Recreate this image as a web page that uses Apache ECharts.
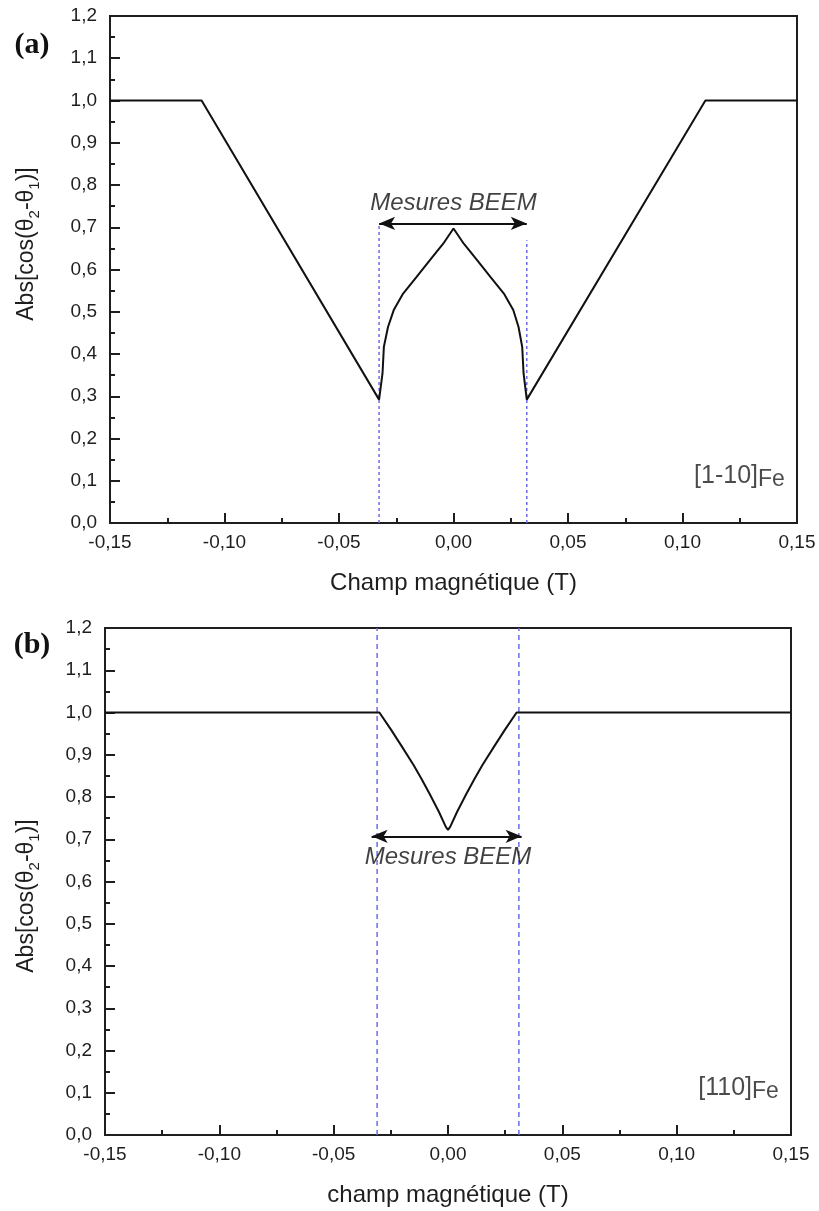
<!DOCTYPE html>
<html>
<head>
<meta charset="utf-8">
<script src="https://cdn.jsdelivr.net/npm/echarts@6.0.0/dist/echarts.min.js"></script>
<style>html,body{margin:0;padding:0;background:#fff;}#c{width:819px;height:1211px;}</style>
</head>
<body>
<div id="c"></div>
<script>
// ---------- data ----------
// Panel (a) [1-10]Fe
const fieldA = [-0.15, -0.11, -0.0325, -0.0310, -0.0304, -0.0286, -0.0261, -0.0220, -0.0162, -0.0103, -0.0045, 0, 0.0045, 0.0103, 0.0162, 0.0220, 0.0261, 0.0284, 0.0300, 0.0306, 0.0320, 0.11, 0.15];
const cosA   = [1.0, 1.0, 0.292, 0.354, 0.417, 0.464, 0.504, 0.543, 0.582, 0.622, 0.661, 0.697, 0.661, 0.622, 0.582, 0.543, 0.504, 0.464, 0.417, 0.354, 0.292, 1.0, 1.0];
const dashXA   = [-0.0325, 0.032];
const dashTopA = [0.705, 0.669];
const arrowA   = [-0.0325, 0.032];
const arrowYA  = 0.709;
const textPosA = [0, 0.757];
const orientPosA = [0.1447, 0.112];

// Panel (b) [110]Fe
const fieldB = [-0.15, -0.030, -0.025, -0.020, -0.015, -0.0115, -0.008, -0.004, -0.001, 0, 0.001, 0.004, 0.008, 0.0115, 0.015, 0.020, 0.025, 0.030, 0.15];
const cosB   = [1.0, 1.0, 0.960, 0.918, 0.875, 0.842, 0.807, 0.765, 0.730, 0.722, 0.730, 0.765, 0.807, 0.842, 0.875, 0.918, 0.960, 1.0, 1.0];
const dashXB   = [-0.031, 0.031];
const dashTopB = [1.2, 1.2];
const arrowB   = [-0.0334, 0.0322];
const arrowYB  = 0.707;
const textPosB = [0, 0.657];
const orientPosB = [0.1447, 0.112];

// axis titles / tick ranges
const xMin = -0.15, xMax = 0.15, xStep = 0.05;
const yMin = 0, yMax = 1.2, yStep = 0.1;
const xTitleA = 'Champ magnétique (T)';
const xTitleB = 'champ magnétique (T)';
const measureText = 'Mesures BEEM';

// ---------- chart ----------
const FONT = '"Liberation Sans", Arial, sans-serif';
const INK = '#1e1e1e';
function fmtX(v){ if (Math.abs(v) < 1e-9) v = 0; return v.toFixed(2).replace('.', ','); }
function fmtY(v){ if (Math.abs(v) < 1e-9) v = 0; return v.toFixed(1).replace('.', ','); }
function zip(a, b){ return a.map((v, i) => [v, b[i]]); }

function mkX(gi, name){
  return {
    gridIndex: gi, type: 'value', min: xMin, max: xMax, interval: xStep,
    name: name, nameLocation: 'middle', nameGap: 48,
    nameTextStyle: {fontFamily: FONT, fontSize: 24, color: INK},
    axisLine: {onZero: false, lineStyle: {color: INK, width: 2}},
    axisTick: {inside: true, length: 10, lineStyle: {color: INK, width: 2}},
    minorTick: {show: true, splitNumber: 2, length: 5, lineStyle: {color: INK, width: 2}},
    splitLine: {show: false}, minorSplitLine: {show: false},
    axisLabel: {formatter: fmtX, fontFamily: FONT, fontSize: 19, color: INK, margin: 10}
  };
}
function mkY(gi){
  return {
    gridIndex: gi, type: 'value', min: yMin, max: yMax, interval: yStep,
    axisLine: {onZero: false, lineStyle: {color: INK, width: 2}},
    axisTick: {inside: true, length: 10, lineStyle: {color: INK, width: 2}},
    minorTick: {show: true, splitNumber: 2, length: 5, lineStyle: {color: INK, width: 2}},
    splitLine: {show: false}, minorSplitLine: {show: false},
    axisLabel: {formatter: fmtY, fontFamily: FONT, fontSize: 19, color: INK, margin: 13}
  };
}
function curve(gi, xs, ys){
  return {type: 'line', xAxisIndex: gi, yAxisIndex: gi, data: zip(xs, ys), symbol: 'none',
    lineStyle: {color: '#111', width: 2}, z: 4, silent: true, animation: false};
}
function dashes(gi, xs, tops, pattern){
  return xs.map((x, i) => ({type: 'line', xAxisIndex: gi, yAxisIndex: gi,
    data: [[x, 0], [x, tops[i]]], symbol: 'none', z: 3, silent: true, animation: false,
    lineStyle: {color: '#6b6bea', width: 1.5, type: pattern}}));
}
function arrow(gi, xs, y){
  return {type: 'line', xAxisIndex: gi, yAxisIndex: gi, data: [[xs[0], y], [xs[1], y]],
    symbol: 'none', lineStyle: {opacity: 0}, silent: true, animation: false, z: 5,
    markLine: {silent: true, animation: false, symbol: ['arrow', 'arrow'], symbolSize: [10, 16],
      label: {show: false}, lineStyle: {color: '#111', width: 2, type: 'solid'},
      data: [[{coord: [xs[0], y]}, {coord: [xs[1], y]}]]}};
}
function textMark(gi, pos, text){
  return {type: 'scatter', xAxisIndex: gi, yAxisIndex: gi, data: [pos], symbolSize: 0,
    silent: true, animation: false, z: 6,
    label: {show: true, position: 'inside', formatter: text, fontFamily: FONT,
      fontStyle: 'italic', fontSize: 24, color: '#111'}};
}
function orientMark(gi, pos, main){
  return {type: 'scatter', xAxisIndex: gi, yAxisIndex: gi, data: [pos], symbolSize: 0,
    silent: true, animation: false, z: 6,
    label: {show: true, position: 'left', distance: 0,
      formatter: '{m|' + main + '}{s|Fe}',
      rich: {
        m: {fontFamily: FONT, fontSize: 25, color: INK, lineHeight: 30, verticalAlign: 'middle'},
        s: {fontFamily: FONT, fontSize: 23, color: INK, lineHeight: 14, verticalAlign: 'bottom'}
      }}};
}
function yTitle(x, y){
  return {type: 'text', x: x, y: y, rotation: Math.PI / 2, silent: true,
    style: {text: '{a|Abs[cos(θ}{s|2}{a|-θ}{s|1}{a|)]}', align: 'center', verticalAlign: 'middle',
      rich: {
        a: {fontFamily: FONT, fontSize: 23, fill: INK, lineHeight: 30, verticalAlign: 'middle'},
        s: {fontFamily: FONT, fontSize: 15, fill: INK, lineHeight: 11, verticalAlign: 'bottom'}
      }}};
}
function panelLabel(x, y, t){
  return {type: 'text', x: x, y: y, silent: true,
    style: {text: t, align: 'center', verticalAlign: 'middle',
      font: 'bold 30px "Liberation Serif", "Times New Roman", serif', fill: '#111'}};
}

const chart = echarts.init(document.getElementById('c'), null, {renderer: 'canvas'});
chart.setOption({
  animation: false,
  backgroundColor: '#ffffff',
  grid: [
    {left: 110, top: 16, width: 687, height: 507, show: true, borderColor: INK, borderWidth: 2, backgroundColor: 'transparent'},
    {left: 105, top: 628, width: 686, height: 507, show: true, borderColor: INK, borderWidth: 2, backgroundColor: 'transparent'}
  ],
  xAxis: [mkX(0, xTitleA), mkX(1, xTitleB)],
  yAxis: [mkY(0), mkY(1)],
  series: [
    curve(0, fieldA, cosA),
    ...dashes(0, dashXA, dashTopA, [3, 3]),
    arrow(0, arrowA, arrowYA),
    textMark(0, textPosA, measureText),
    orientMark(0, orientPosA, '[1-10]'),
    curve(1, fieldB, cosB),
    ...dashes(1, dashXB, dashTopB, [5, 4]),
    arrow(1, arrowB, arrowYB),
    textMark(1, textPosB, measureText),
    orientMark(1, orientPosB, '[110]')
  ],
  graphic: [
    yTitle(27, 244),
    yTitle(27, 896),
    panelLabel(32, 45, '(a)'),
    panelLabel(32, 645, '(b)')
  ]
});
</script>
</body>
</html>
